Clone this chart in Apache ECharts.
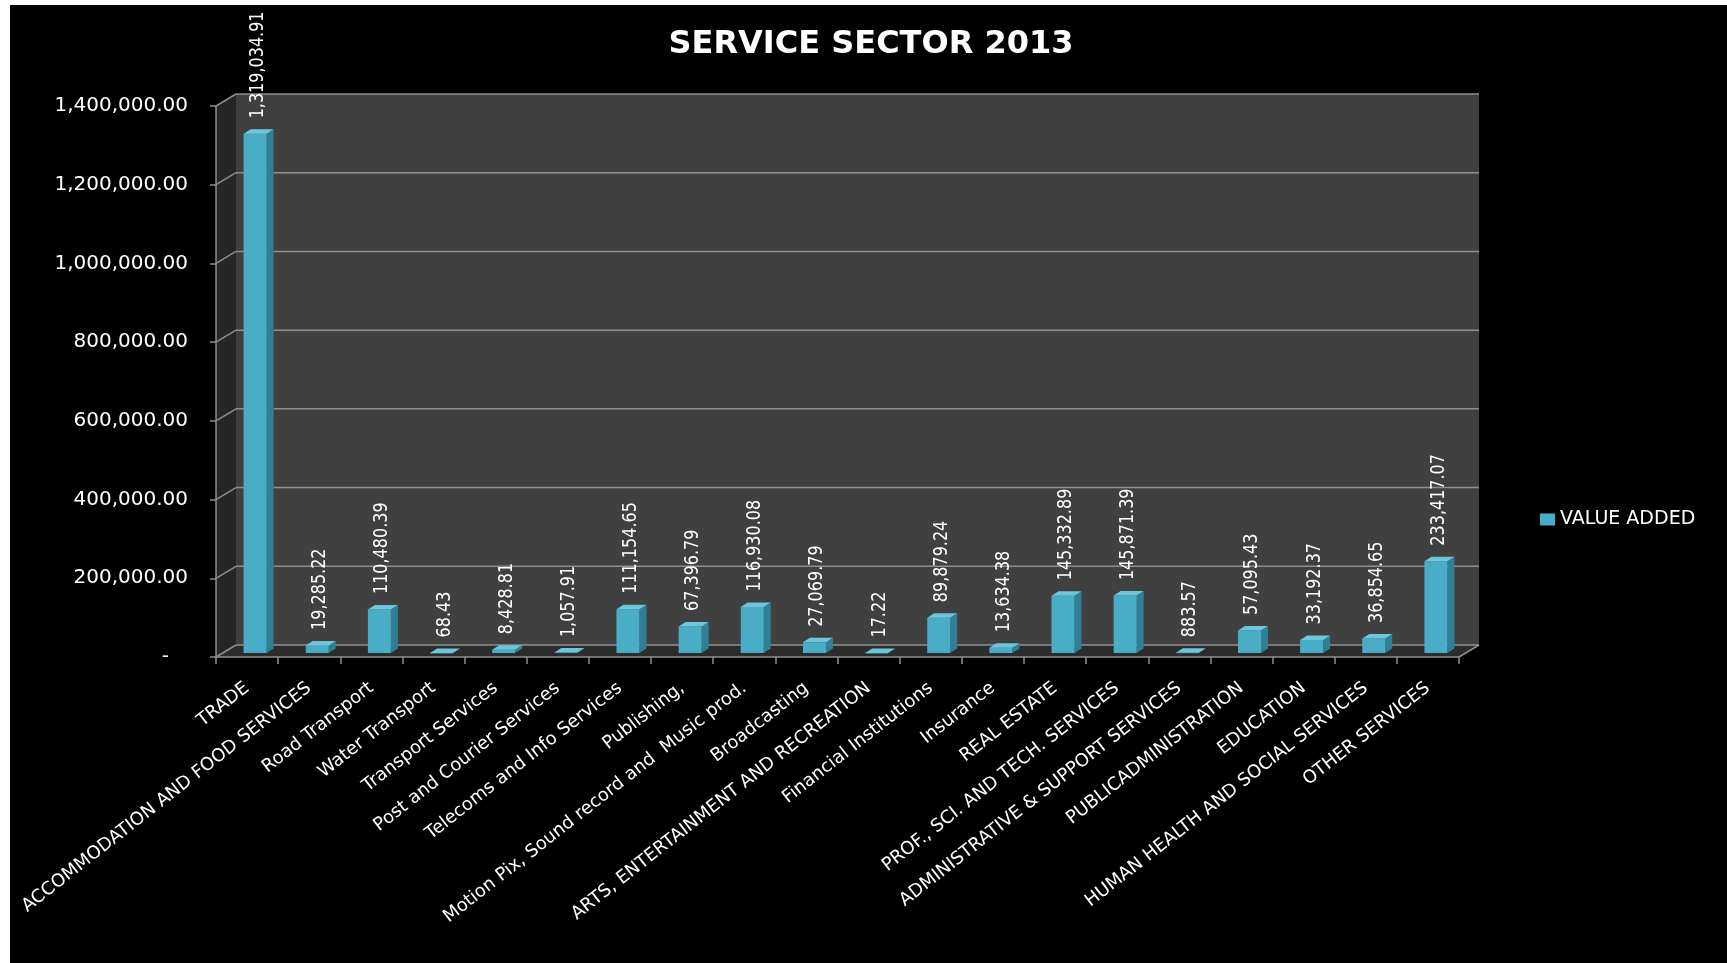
<!DOCTYPE html>
<html>
<head>
<meta charset="utf-8">
<script src="https://cdn.jsdelivr.net/npm/echarts@6/dist/echarts.min.js"></script>
<style>
  html, body { margin: 0; padding: 0; background: #ffffff; }
  #bg { position: absolute; left: 10px; top: 5px; right: 0; bottom: 0; background: #000000; }
  #chart { position: absolute; left: 0; top: 0; width: 1727px; height: 963px; }
</style>
</head>
<body>
<div id="bg"></div>
<div id="chart"></div>
<script>
const categories = [
  'TRADE',
  'ACCOMMODATION AND FOOD SERVICES',
  'Road Transport',
  'Water Transport',
  'Transport Services',
  'Post and Courier Services',
  'Telecoms and Info Services',
  'Publishing,',
  'Motion Pix, Sound record and  Music prod.',
  'Broadcasting',
  'ARTS, ENTERTAINMENT AND RECREATION',
  'Financial Institutions',
  'Insurance',
  'REAL ESTATE',
  'PROF., SCI. AND TECH. SERVICES',
  'ADMINISTRATIVE & SUPPORT SERVICES',
  'PUBLICADMINISTRATION',
  'EDUCATION',
  'HUMAN HEALTH AND SOCIAL SERVICES',
  'OTHER SERVICES'
];
const valueAdded = [
  1319034.91, 19285.22, 110480.39, 68.43, 8428.81, 1057.91, 111154.65,
  67396.79, 116930.08, 27069.79, 17.22, 89879.24, 13634.38, 145332.89,
  145871.39, 883.57, 57095.43, 33192.37, 36854.65, 233417.07
];
const yTicks = [0, 200000, 400000, 600000, 800000, 1000000, 1200000, 1400000];
const seriesName = 'VALUE ADDED';

const FONT = '"DejaVu Sans", Lato, sans-serif';
const DX = 20, DY = -12;          // depth of the 3D box
const fmt = v => v.toLocaleString('en-US', { minimumFractionDigits: 2, maximumFractionDigits: 2 });

const chart = echarts.init(document.getElementById('chart'), null, { renderer: 'canvas' });

function renderWalls(params, api) {
  const cs = params.coordSys;
  const x0 = cs.x, x1 = cs.x + cs.width, yt = cs.y, yb = cs.y + cs.height;
  const children = [];
  children.push({ type: 'polygon', shape: { points: [[x0 + DX, yt + DY], [x1 + DX, yt + DY], [x1 + DX, yb + DY], [x0 + DX, yb + DY]] }, style: { fill: '#404040' } });
  children.push({ type: 'polygon', shape: { points: [[x0, yt], [x0 + DX, yt + DY], [x0 + DX, yb + DY], [x0, yb]] }, style: { fill: '#262626' } });
  children.push({ type: 'polygon', shape: { points: [[x0, yb], [x1, yb], [x1 + DX, yb + DY], [x0 + DX, yb + DY]] }, style: { fill: '#2c2c2c' } });
  yTicks.forEach(v => {
    const y = api.coord([0, v])[1];
    children.push({ type: 'line', shape: { x1: x0 + DX, y1: y + DY, x2: x1 + DX, y2: y + DY }, style: { stroke: '#8f8f8f', lineWidth: 1.5 } });
    children.push({ type: 'line', shape: { x1: x0, y1: y, x2: x0 + DX, y2: y + DY }, style: { stroke: '#8f8f8f', lineWidth: 1.5 } });
  });
  children.push({ type: 'line', shape: { x1: x1, y1: yb, x2: x1 + DX, y2: yb + DY }, style: { stroke: '#8f8f8f', lineWidth: 1.5 } });
  return { type: 'group', children };
}

function renderBar(params, api) {
  const i = api.value(0), v = api.value(1);
  const top = api.coord([i, v]);
  const base = api.coord([i, 0]);
  const bw = 23;
  const fx = 8, fy = -4;     // front face offset into depth
  const sx = 7, sy = -4.5;   // bar depth
  const cx = top[0] + fx;
  const xl = cx - bw / 2, xr = cx + bw / 2;
  const yTop = top[1] + fy, yBot = base[1] + fy;
  return {
    type: 'group',
    children: [
      { type: 'polygon', shape: { points: [[xr, yTop], [xr + sx, yTop + sy], [xr + sx, yBot + sy], [xr, yBot]] }, style: { fill: '#2f7f95' } },
      { type: 'rect', shape: { x: xl, y: yTop, width: bw, height: Math.max(yBot - yTop, 0.5) }, style: { fill: '#4aadc7' } },
      { type: 'polygon', shape: { points: [[xl, yTop], [xr, yTop], [xr + sx, yTop + sy], [xl + sx, yTop + sy]] }, style: { fill: '#6cc6dc' } },
      { type: 'text', x: cx + 3, y: yTop + sy - 11, rotation: Math.PI / 2, scaleY: 1.2,
        style: { text: fmt(v), fill: '#ffffff', font: '16px ' + FONT, align: 'left', verticalAlign: 'middle' } }
    ]
  };
}

const option = {
  backgroundColor: 'transparent',
  animation: false,
  title: {
    text: 'SERVICE SECTOR 2013',
    left: 866, top: 24,
    textAlign: 'center',
    textStyle: { color: '#ffffff', fontSize: 32, fontWeight: 'bold', fontFamily: FONT }
  },
  legend: {
    data: [seriesName],
    left: 1535, top: 505,
    icon: 'rect', itemWidth: 15, itemHeight: 12, itemGap: 6,
    textStyle: { color: '#ffffff', fontSize: 19, fontFamily: FONT }
  },
  grid: { left: 216, right: 268, top: 106, bottom: 306, containLabel: false },
  xAxis: {
    type: 'category',
    data: categories,
    axisLine: { lineStyle: { color: '#8f8f8f', width: 1.5 } },
    axisTick: { show: true, length: 7, lineStyle: { color: '#8f8f8f', width: 1.5 } },
    axisLabel: { interval: 0, rotate: 38, margin: 29, color: '#ffffff', fontSize: 18, fontFamily: FONT },
    splitLine: { show: false }
  },
  yAxis: {
    type: 'value',
    min: 0, max: 1400000, interval: 200000,
    axisLine: { show: true, lineStyle: { color: '#8f8f8f', width: 1.5 } },
    axisTick: { show: true, length: 6, lineStyle: { color: '#8f8f8f', width: 1.5 } },
    axisLabel: {
      margin: 28, color: '#ffffff', fontSize: 20, fontFamily: FONT,
      formatter: v => (v === 0 ? '-   ' : fmt(v))
    },
    splitLine: { show: false }
  },
  series: [
    {
      name: 'walls', type: 'custom', silent: true, z: 0,
      renderItem: renderWalls, data: [[0, 0]]
    },
    {
      name: seriesName, type: 'custom', z: 3,
      itemStyle: { color: '#4aadc7' },
      renderItem: renderBar,
      data: valueAdded.map((v, i) => [i, v])
    }
  ]
};
chart.setOption(option);
</script>
</body>
</html>
